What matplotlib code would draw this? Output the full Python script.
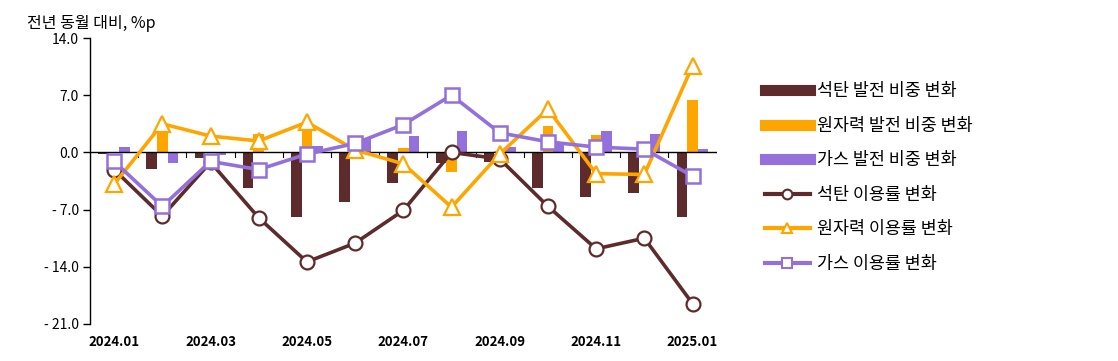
import numpy as np
import matplotlib.pyplot as plt
from matplotlib.lines import Line2D

plt.rcParams['font.family'] = ['Noto Sans CJK KR', 'DejaVu Sans']

# data
months = ['2024.01', '2024.02', '2024.03', '2024.04', '2024.05', '2024.06', '2024.07',
          '2024.08', '2024.09', '2024.10', '2024.11', '2024.12', '2025.01']
coal_share = [-0.2, -2.0, -0.7, -4.3, -7.9, -6.1, -3.8, -1.3, -1.2, -4.3, -5.4, -5.0, -7.9]
nuc_share = [0.1, 2.7, 0.0, 2.2, 3.2, 0.6, 0.5, -2.4, 0.2, 3.2, 2.1, 0.0, 6.4]
gas_share = [0.7, -1.3, -0.3, 0.0, 0.8, 1.8, 2.0, 2.6, 0.7, 1.3, 2.6, 2.2, 0.4]
coal_util = [-2.1, -7.8, -1.2, -8.0, -13.4, -11.1, -7.1, 0.0, -0.8, -6.6, -11.8, -10.5, -18.5]
nuc_util = [-3.9, 3.5, 2.0, 1.4, 3.7, 0.3, -1.4, -6.7, -0.2, 5.3, -2.6, -2.7, 10.6]
gas_util = [-1.1, -6.6, -1.1, -2.1, -0.2, 1.1, 3.4, 7.0, 2.4, 1.3, 0.65, 0.4, -2.9]

names = ['석탄 발전 비중 변화', '원자력 발전 비중 변화', '가스 발전 비중 변화',
         '석탄 이용률 변화', '원자력 이용률 변화', '가스 이용률 변화']

c_coal = '#5E2B2C'
c_nuc = '#FFA500'
c_gas = '#9370DB'

x = np.arange(len(months))
w = 0.22

fig = plt.figure(figsize=(11.18, 3.61), dpi=100)
ax = fig.add_axes([0.0805, 0.1025, 0.5605, 0.7922])

ax.bar(x - w, coal_share, w, color=c_coal, zorder=2)
ax.bar(x, nuc_share, w, color=c_nuc, zorder=2)
ax.bar(x + w, gas_share, w, color=c_gas, zorder=2)

ax.axhline(0, color='black', lw=1, zorder=3)
# small tick marks at category boundaries on the zero line
for b in np.arange(0.5, len(months) - 1, 1):
    ax.plot([b, b], [0, -0.6], color='black', lw=0.8, zorder=1)

ax.plot(x, coal_util, color=c_coal, lw=2.6, marker='o', ms=10, mfc='white',
        mec=c_coal, mew=1.6, zorder=4)
ax.plot(x, nuc_util, color=c_nuc, lw=2.6, marker='^', ms=11, mfc='white',
        mec=c_nuc, mew=1.6, zorder=5)
ax.plot(x, gas_util, color=c_gas, lw=2.6, marker='s', ms=10, mfc='white',
        mec=c_gas, mew=1.8, zorder=6)

ax.set_xlim(-0.5, len(months) - 0.5)
ax.set_ylim(-21, 14)
ax.set_yticks([14, 7, 0, -7, -14, -21])
ax.set_yticklabels(['14.0', '7.0', '0.0', '- 7.0', '- 14.0', '- 21.0'], fontsize=10)
ax.set_xticks(x[::2])
ax.set_xticklabels(months[::2], fontsize=9.5, fontweight='bold')
ax.tick_params(axis='x', length=0, pad=8)
ax.tick_params(axis='y', length=5, width=1, pad=3)
for s in ['top', 'right', 'bottom']:
    ax.spines[s].set_visible(False)
ax.spines['left'].set_linewidth(1)

fig.text(0.024, 0.935, '전년 동월 대비, %p', fontsize=11.5, ha='left', va='center')

handles = [
    Line2D([], [], color=c_coal, lw=8),
    Line2D([], [], color=c_nuc, lw=8),
    Line2D([], [], color=c_gas, lw=8),
    Line2D([], [], color=c_coal, lw=3, marker='o', ms=7, mfc='white', mec=c_coal, mew=1.5),
    Line2D([], [], color=c_nuc, lw=3, marker='^', ms=7, mfc='white', mec=c_nuc, mew=1.5),
    Line2D([], [], color=c_gas, lw=3, marker='s', ms=7, mfc='white', mec=c_gas, mew=1.5),
]
fig.legend(handles, names, loc='upper left', bbox_to_anchor=(0.67, 0.815),
           frameon=False, fontsize=12.5, handlelength=2.6, handletextpad=0.4,
           labelspacing=0.95)

fig.savefig('out.png', dpi=100)
